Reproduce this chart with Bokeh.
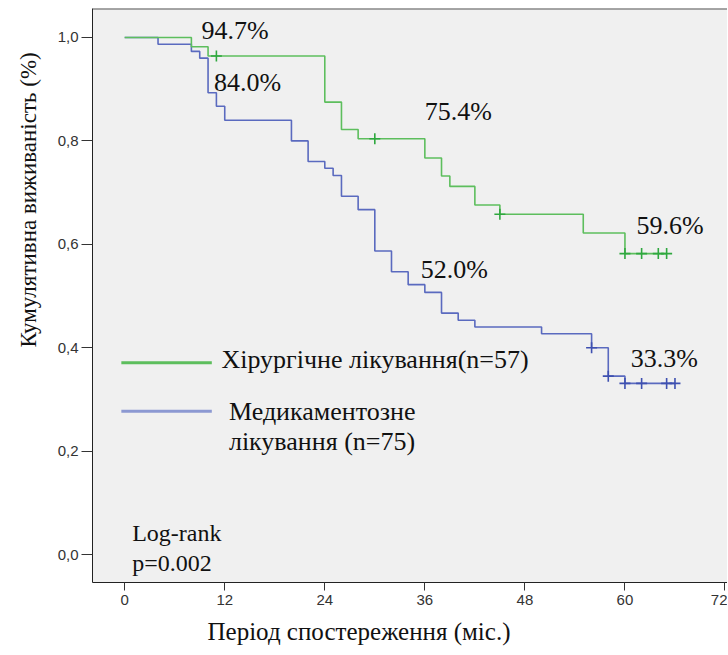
import numpy as np
from bokeh.plotting import figure
from bokeh.models import (Range1d, FixedTicker, CustomJSTickFormatter, Label, Title, Span)
from bokeh.embed import file_html
from bokeh.resources import INLINE

# ---- data ----
surg_times = [0, 8, 10, 24, 26, 28, 36, 38, 39, 42, 45, 55, 60]
surg_surv = [1.0, 0.982, 0.964, 0.875, 0.822, 0.804, 0.767, 0.732, 0.712, 0.676, 0.658, 0.622, 0.582]
surg_censor = [11, 30, 45, 60, 62, 64, 65]

med_times = [0, 4, 8, 9, 10, 11, 12, 20, 22, 24, 25, 26, 28, 30, 32, 34, 36, 38, 40, 42, 50, 56, 58, 60]
med_surv = [1.0, 0.987, 0.973, 0.960, 0.893, 0.867, 0.840, 0.800, 0.760, 0.747, 0.733, 0.693, 0.667,
            0.587, 0.547, 0.522, 0.507, 0.467, 0.453, 0.440, 0.427, 0.400, 0.345, 0.331]
med_censor = [56, 58, 60, 62, 65, 66]

x_ticks = [0, 12, 24, 36, 48, 60, 72]
y_ticks = [0.0, 0.2, 0.4, 0.6, 0.8, 1.0]

pct_texts = ["94.7%", "84.0%", "75.4%", "52.0%", "59.6%", "33.3%"]
pct_x = [9.2, 10.7, 36.0, 35.5, 61.4, 60.7]
pct_y = [1.014, 0.913, 0.857, 0.551, 0.636, 0.380]

legend_surg = "Хірургічне лікування(n=57)"
legend_med = ["Медикаментозне", "лікування (n=75)"]
logrank = ["Log-rank", "p=0.002"]
x_label = "Період спостереження (міс.)"
y_label = "Кумулятивна виживаність (%)"

GREEN = "#5DBE5D"
GREEN_D = "#2FA83F"
BLUE = "#5A6ABF"
BLUE_D = "#3E50B0"
SERIF = "Liberation Serif"

X_END = 72.3
Y_TOP = 1.056

p = figure(width=727, height=654, output_backend="svg", toolbar_location=None,
           x_range=Range1d(-3.86, X_END), y_range=Range1d(-0.054, Y_TOP),
           min_border_left=92, min_border_right=0, min_border_top=8, min_border_bottom=72)
p.background_fill_color = "#F0F0F0"
p.border_fill_color = "white"
p.outline_line_color = None
p.xgrid.visible = False
p.ygrid.visible = False
p.add_layout(Span(location=Y_TOP, dimension="width", line_color="#555555", line_width=2))

p.xaxis.ticker = FixedTicker(ticks=x_ticks)
p.yaxis.ticker = FixedTicker(ticks=y_ticks)
p.yaxis.formatter = CustomJSTickFormatter(code="return tick.toFixed(1).replace('.', ',')")
for ax in (p.xaxis, p.yaxis):
    ax.axis_line_color = "#222222"
    ax.major_tick_line_color = "#333333"
    ax.minor_tick_line_color = None
    ax.major_tick_in = 0
    ax.major_label_text_font = "Liberation Sans"
    ax.major_label_text_font_size = "15px"
    ax.major_label_text_color = "#333333"
p.xaxis.major_tick_out = 8
p.yaxis.major_tick_out = 11
p.xaxis.major_label_standoff = 4
p.yaxis.major_label_standoff = 3


def step_with_end(times, surv, censor):
    xs = list(times) + [max(censor)]
    ys = list(surv) + [surv[-1]]
    idx = np.searchsorted(np.array(times), np.array(censor), side="right") - 1
    cy = [surv[i] for i in idx]
    return xs, ys, cy


sx, sy, scy = step_with_end(surg_times, surg_surv, surg_censor)
mx, my, mcy = step_with_end(med_times, med_surv, med_censor)

p.step(mx, my, mode="after", line_color=BLUE, line_width=1.6)
p.step(sx, sy, mode="after", line_color=GREEN, line_width=1.6)
p.scatter(med_censor, mcy, marker="cross", size=11, line_color=BLUE_D, line_width=1.6)
p.scatter(surg_censor, scy, marker="cross", size=11, line_color=GREEN_D, line_width=1.6)

for t, xx, yy in zip(pct_texts, pct_x, pct_y):
    p.add_layout(Label(x=xx, y=yy, text=t, text_font=SERIF, text_font_size="26px",
                       text_baseline="middle", text_color="#111111"))

# legend drawn inside the plot
p.segment(x0=[-0.4], y0=[0.371], x1=[10.45], y1=[0.371], line_color=GREEN, line_width=3)
p.segment(x0=[-0.4], y0=[0.277], x1=[10.45], y1=[0.277], line_color="#8C99D2", line_width=3)
p.add_layout(Label(x=11.6, y=0.377, text=legend_surg, text_font=SERIF, text_font_size="26px",
                   text_baseline="middle", text_color="#111111"))
p.add_layout(Label(x=12.5, y=0.277, text=legend_med[0], text_font=SERIF, text_font_size="26px",
                   text_baseline="middle", text_color="#111111"))
p.add_layout(Label(x=12.5, y=0.219, text=legend_med[1], text_font=SERIF, text_font_size="26px",
                   text_baseline="middle", text_color="#111111"))

p.add_layout(Label(x=0.9, y=0.042, text=logrank[0], text_font=SERIF, text_font_size="24px",
                   text_baseline="middle", text_color="#111111"))
p.add_layout(Label(x=0.9, y=-0.016, text=logrank[1], text_font=SERIF, text_font_size="24px",
                   text_baseline="middle", text_color="#111111"))

# axis titles placed like the reference (off-centre)
p.add_layout(Title(text=x_label, text_font=SERIF, text_font_size="25px", text_font_style="normal",
                   text_color="#111111", align="left", offset=115, standoff=17), "below")
p.add_layout(Title(text=y_label, text_font=SERIF, text_font_size="23px", text_font_style="normal",
                   text_color="#111111", align="left", offset=235, standoff=27), "left")

open("out.html", "w").write(file_html(p, INLINE))
